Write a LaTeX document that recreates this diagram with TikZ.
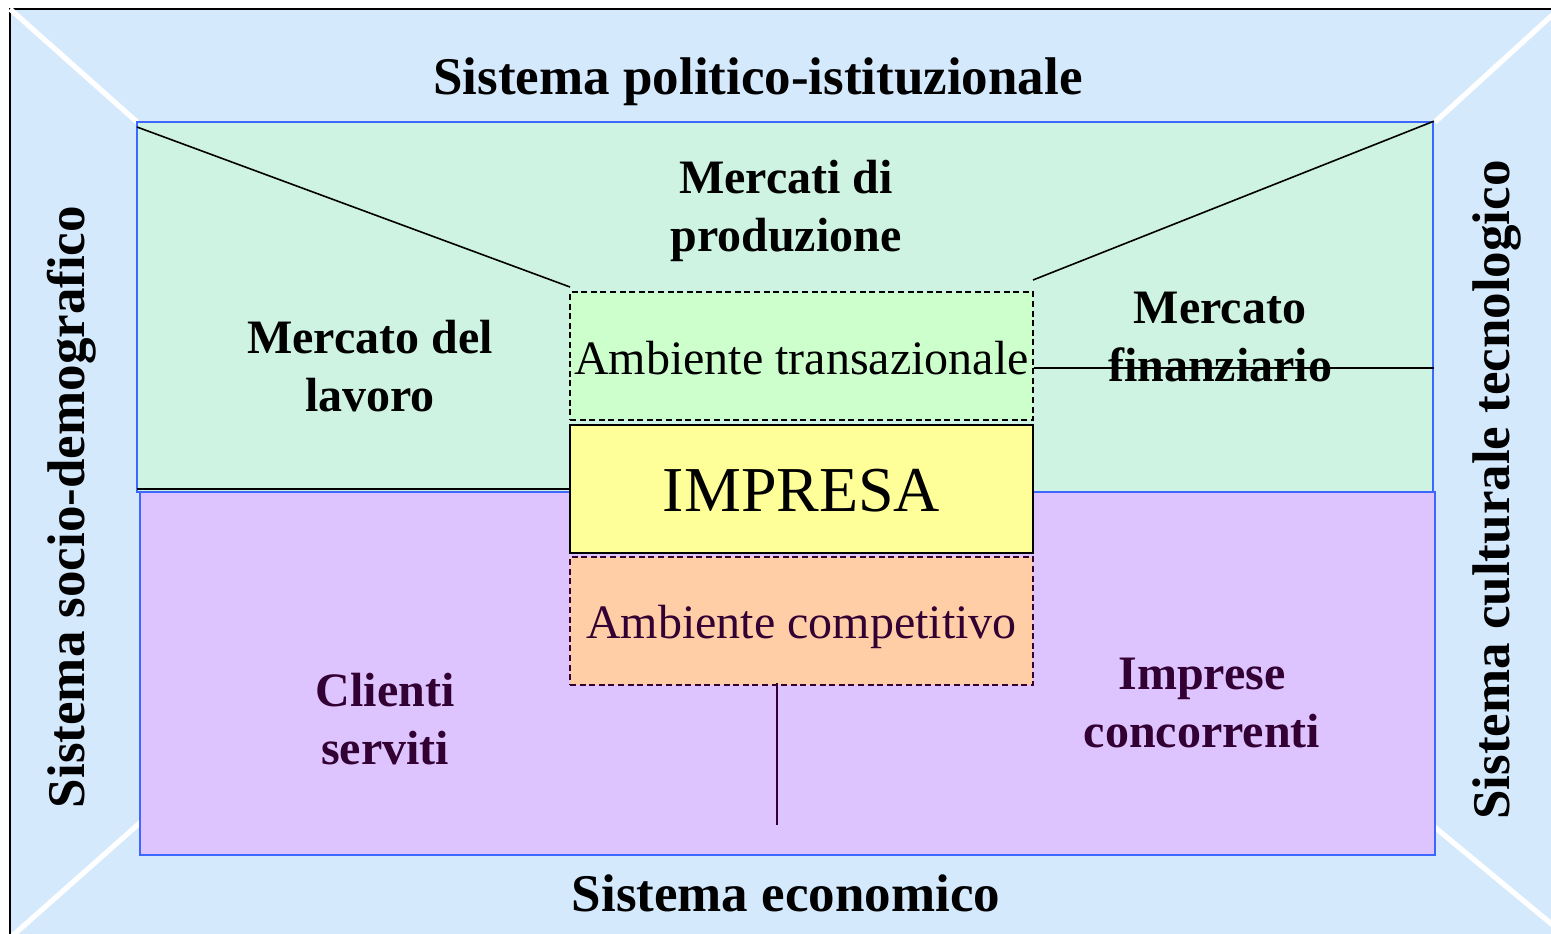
\documentclass[tikz,border=0pt]{standalone}
\usepackage{fontspec}
\setmainfont{Liberation Serif}
\usetikzlibrary{positioning}
\definecolor{sfondo}{RGB}{213,233,253}
\definecolor{verde}{RGB}{207,243,227}
\definecolor{viola}{RGB}{221,196,254}
\definecolor{bordo}{RGB}{61,103,255}
\definecolor{prugna}{RGB}{51,0,51}
\definecolor{transaz}{RGB}{204,255,204}
\definecolor{giallo}{RGB}{255,255,153}
\definecolor{pesca}{RGB}{255,206,166}
\tikzset{
  sistema/.style={font=\fontsize{26.5}{32}\selectfont\bfseries},
  mercato/.style={font=\fontsize{24}{29}\selectfont\bfseries, align=center},
  scatola/.style={minimum width=231.5pt, minimum height=64pt, inner sep=0pt},
  ambiente/.style={scatola, draw, dash pattern=on 3pt off 1.8pt, line width=0.6pt},
  testoamb/.style={font=\fontsize{24}{29}\selectfont},
  zona/.style={draw=bordo, line width=0.8pt, inner sep=0pt},
  diagonale/.style={white, line width=2.6pt},
}
\begin{document}
\begin{tikzpicture}[x=0.5pt,y=-0.5pt]
\clip (0,0) rectangle (1551,933);

% sfondo esterno
\fill[sfondo] (10,9) rectangle (1565,945);
\draw[line width=1pt] (10,945) -- (10,9) -- (1565,9);
\draw[diagonale] (10,9) -- (137,122);
\draw[diagonale] (1560,8) -- (1435,122);
\draw[diagonale] (10,938) -- (160,805);
\draw[diagonale] (1560,931) -- (1420,815);

% mercati e concorrenza
\node[zona, fill=verde, minimum width=648pt, minimum height=185pt] (merc) at (785,307) {};
\node[zona, fill=viola, minimum width=647.5pt, minimum height=181.5pt] (conc) at (787.5,673.5) {};

\draw[line width=0.8pt] (137,127) -- (570,287);
\draw[line width=0.8pt] (1033,280) -- (merc.north east);
\draw[line width=0.8pt] (137,489) -- (570,489);

% impresa e ambienti
\node[ambiente, fill=transaz] (trans) at (801.5,356) {};
\node[scatola, draw, line width=0.8pt, fill=giallo] (impresa) at (801.5,489) {};
\node[ambiente, fill=pesca, draw=prugna] (compet) at (801.5,621) {};
\node[testoamb] (transtxt) at ([yshift=-1pt]trans.center) {Ambiente transazionale};
\node[font=\fontsize{32}{38}\selectfont] (impresatxt) at ([yshift=-1pt]impresa.center) {IMPRESA};
\node[testoamb, text=prugna] (competxt) at ([yshift=-3pt]compet.center) {Ambiente competitivo};
\draw[prugna, line width=0.8pt] (777,683) -- (777,825);

% etichette
\node[sistema] (polit) at (758,82) {Sistema politico-istituzionale};
\node[sistema] (econ) at (786,893) {Sistema economico};
\node[sistema, rotate=90] (socio) at (72,507) {Sistema socio-demografico};
\node[sistema, rotate=90] (cult) at (1497,490) {Sistema culturale tecnologico};

\node[mercato] (prod) at (786,211) {Mercati di\\produzione};
\node[mercato] (lavoro) at (370,366) {Mercato del\\lavoro};
\node[mercato] (finanz) at (1220,337) {Mercato\\finanziario};
\node[mercato, text=prugna] (clienti) at (385,719) {Clienti\\serviti};
\node[mercato, text=prugna] (imprese) at (1202,703) {Imprese\\concorrenti};

\draw[line width=0.8pt] (trans.east |- 0,368) -- (merc.east |- 0,368);

\end{tikzpicture}
\end{document}
